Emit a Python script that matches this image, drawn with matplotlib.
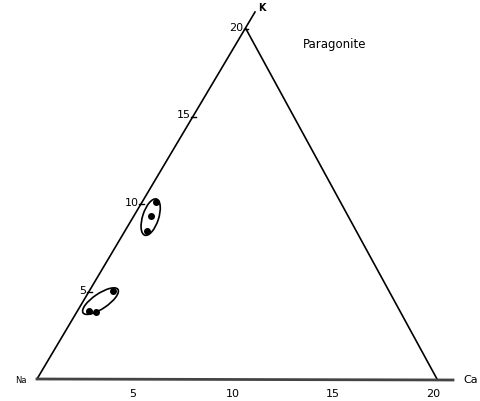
import matplotlib.pyplot as plt
import numpy as np
from matplotlib.patches import Ellipse

# apex of the K corner in plot units (Na at origin, Ca at (20, 0))
apex = np.array([10.45, 17.5])

# point compositions (K, Ca on 0-20 scale)
k_vals = [10.1, 9.3, 8.45, 5.05, 3.9, 3.85]
ca_vals = [0.65, 0.85, 1.1, 1.15, 0.55, 0.95]

# grouping ellipses: centre (K, Ca), length, width, angle
ell_k = [9.25, 4.45]
ell_ca = [0.85, 0.85]
ell_len = [1.9, 2.1]
ell_wid = [0.8, 0.75]
ell_ang = [72, 34]

tick_vals = [5, 10, 15, 20]


def to_xy(k, ca):
    k = np.asarray(k, dtype=float)
    ca = np.asarray(ca, dtype=float)
    x = ca + k * apex[0] / 20
    y = k * apex[1] / 20
    return x, y


fig = plt.figure(figsize=(4.81, 4.02), dpi=100)
ax = fig.add_axes([0, 0, 1, 1])
ax.set_xlim(-1.85, 22.2)
ax.set_ylim(-1.1, 19.0)
ax.axis('off')

# triangle edges
ax.plot([0, apex[0] + 0.45], [0, apex[1] + 0.85], color='k', lw=1.2)
ax.plot([apex[0], 20], [apex[1], 0], color='k', lw=1.2)
ax.plot([0, 20.8], [0, -0.05], color='#444444', lw=2.0)

# tick labels on K edge
for t in tick_vals:
    x, y = to_xy(t, 0)
    ax.plot([x - 0.12, x + 0.12], [y, y], color='k', lw=1)
    ax.text(x - 0.15, y + 0.1, str(t), ha='right', va='center', fontsize=8)

# tick labels on Ca edge
for t in tick_vals:
    x, y = to_xy(0, t)
    ax.text(x - 0.2, -0.45, str(t), ha='center', va='top', fontsize=8)

ax.text(apex[0] + 0.6, apex[1] + 0.95, 'K', fontsize=7, weight='bold')
ax.text(-1.1, -0.05, 'Na', fontsize=6, va='center')
ax.text(21.3, 0.0, 'Ca', fontsize=8, va='center')
ax.text(13.3, 16.6, 'Paragonite', fontsize=8.5)

# data points
px, py = to_xy(k_vals, ca_vals)
ax.scatter(px, py, s=16, color='k', zorder=3)

for k, ca, l, w, a in zip(ell_k, ell_ca, ell_len, ell_wid, ell_ang):
    cx, cy = to_xy(k, ca)
    ax.add_patch(Ellipse((float(cx), float(cy)), l, w, angle=a,
                         fill=False, color='k', lw=1.2))

fig.savefig('out.png', dpi=100)
